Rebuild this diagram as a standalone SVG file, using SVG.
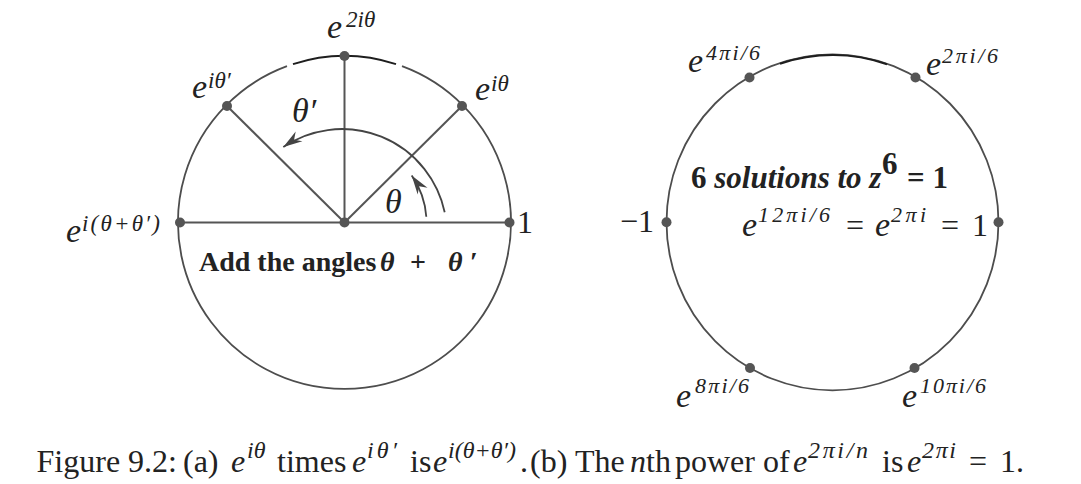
<svg xmlns="http://www.w3.org/2000/svg" width="1081" height="484" viewBox="0 0 1081 484">
<style>
text{font-family:"Liberation Serif","Times New Roman",serif;fill:#222}
.m{font-style:italic;font-size:34px}
.s{font-style:italic;font-size:23px}
.s2{font-style:italic;font-size:22px}
.r{font-size:32px}
.c{font-size:32px}
.cs{font-style:italic;font-size:24px}
.b{font-weight:bold;font-size:28px}
.b30{font-weight:bold;font-size:31px}
.circ{fill:none;stroke:#4d4d4d;stroke-width:1.8}
.dark{fill:none;stroke:#1e1e1e;stroke-width:2}
.ln{stroke:#555;stroke-width:2;fill:none}
.arc{stroke:#444;stroke-width:1.8;fill:none}
.dot{fill:#555}
</style>
<defs>
<marker id="ah" viewBox="-20 -8 22 16" refX="0" refY="0" markerWidth="22" markerHeight="16" markerUnits="userSpaceOnUse" orient="auto">
<path d="M0,0 L-19,-6 L-13,0 L-19,6 Z" fill="#444"/>
</marker>
</defs>

<g id="left-circle">
<path class="circ" d="M402 66.2 A166.5 166.5 0 1 1 287 66.2"/>
<path class="dark" d="M293 64.1 A166.5 166.5 0 0 1 396 64.1"/>
</g>
<g id="right-circle">
<ellipse class="circ" cx="832.5" cy="222.3" rx="166" ry="168"/>
<path class="dark" d="M780 63.8 A166 168 0 0 1 887 64.3"/>
</g>

<g id="connectors">
<line class="ln" x1="180" y1="222.5" x2="509.5" y2="222.5"/>
<line class="ln" x1="344.5" y1="222.5" x2="344.5" y2="56"/>
<line class="ln" x1="344.5" y1="222.5" x2="227" y2="106"/>
<line class="ln" x1="344.5" y1="222.5" x2="462" y2="106"/>
<path class="arc" d="M444.7 212.2 A105 105 0 0 0 283.3 147" marker-end="url(#ah)"/>
<path class="arc" d="M426.3 216.8 A82 82 0 0 0 411.7 175.5" marker-end="url(#ah)"/>
</g>

<g id="node-center"><circle class="dot" cx="344.5" cy="222.5" r="5"/></g>
<g id="node-one"><circle class="dot" cx="509.5" cy="222.5" r="5"/><text class="r" x="517" y="233">1</text></g>
<g id="node-sum"><circle class="dot" cx="180" cy="222.5" r="5"/><text class="m" x="66" y="242">e</text><text class="s" x="82" y="231" textLength="78" lengthAdjust="spacing">i(θ+θ′)</text></g>
<g id="node-2itheta"><circle class="dot" cx="344.5" cy="56" r="5"/><text class="m" x="327" y="38">e</text><text class="s" x="346" y="27">2iθ</text></g>
<g id="node-ithetap"><circle class="dot" cx="227" cy="106" r="5"/><text class="m" x="192" y="98">e</text><text class="s" x="208" y="88">iθ′</text></g>
<g id="node-itheta"><circle class="dot" cx="462" cy="106" r="5"/><text class="m" x="475" y="100">e</text><text class="s" x="491" y="91">iθ</text></g>
<g id="angle-labels">
<text class="m" x="292" y="122">θ′</text>
<text class="m" x="385" y="213">θ</text>
</g>
<g id="left-title">
<text class="b" x="199" y="271">Add the angles</text>
<text class="b" x="380" y="271" font-style="italic" font-size="31px">θ</text>
<text class="b" x="410" y="271" font-size="31px">+</text>
<text class="b" x="448" y="271" font-style="italic" font-size="31px">θ</text>
<text class="b" x="470" y="271" font-size="31px">′</text>
</g>

<g id="node-r0"><circle class="dot" cx="998.5" cy="222.3" r="5"/></g>
<g id="node-r60"><circle class="dot" cx="915.5" cy="77.5" r="5"/><text class="m" x="926" y="75">e</text><text class="s2" x="942" y="63" textLength="56" lengthAdjust="spacing">2πi/6</text></g>
<g id="node-r120"><circle class="dot" cx="749.5" cy="77.5" r="5"/><text class="m" x="688" y="72">e</text><text class="s2" x="706" y="60" textLength="54" lengthAdjust="spacing">4πi/6</text></g>
<g id="node-r180"><circle class="dot" cx="666.5" cy="222.3" r="5"/><text class="r" x="620" y="232">−1</text></g>
<g id="node-r240"><circle class="dot" cx="750" cy="368" r="5"/><text class="m" x="676" y="407">e</text><text class="s2" x="695" y="393" textLength="54" lengthAdjust="spacing">8πi/6</text></g>
<g id="node-r300"><circle class="dot" cx="914.5" cy="368" r="5"/><text class="m" x="902" y="407">e</text><text class="s2" x="920" y="393" textLength="66" lengthAdjust="spacing">10πi/6</text></g>
<g id="right-title">
<text class="b30" x="691" y="188">6 <tspan font-style="italic">solutions to z</tspan></text>
<text class="b30" x="882" y="174" font-size="21px">6</text>
<text class="b30" x="907" y="188">= 1</text>
<text class="m" x="742" y="236">e</text><text class="s2" x="758" y="222" textLength="72" lengthAdjust="spacing">12πi/6</text>
<text class="r" x="846" y="236">=</text>
<text class="m" x="875" y="236">e</text><text class="s2" x="891" y="222" textLength="35" lengthAdjust="spacing">2πi</text>
<text class="r" x="941" y="236">=</text>
<text class="r" x="972" y="236">1</text>
</g>

<g id="caption">
<text class="c" x="177" y="472" text-anchor="end">Figure 9.2:</text>
<text class="c" x="183" y="472">(a)</text>
<text class="c" x="231" y="472" font-style="italic">e</text><text class="cs" x="247" y="458">iθ</text>
<text class="c" x="277" y="472">times</text>
<text class="c" x="352" y="472" font-style="italic">e</text><text class="cs" x="367" y="458" textLength="30" lengthAdjust="spacing">iθ′</text>
<text class="c" x="410" y="472">is</text>
<text class="c" x="433" y="472" font-style="italic">e</text><text class="cs" x="448" y="458" textLength="68" lengthAdjust="spacing">i(θ+θ′)</text>
<text class="c" x="520" y="472">.</text>
<text class="c" x="530" y="472">(b)</text>
<text class="c" x="575" y="472">The</text>
<text class="c" x="630" y="472" font-style="italic">n</text>
<text class="c" x="646" y="472">th</text>
<text class="c" x="675" y="472">power</text>
<text class="c" x="763" y="472">of</text>
<text class="c" x="793" y="472" font-style="italic">e</text><text class="cs" x="808" y="458" textLength="60" lengthAdjust="spacing">2πi/n</text>
<text class="c" x="882" y="472">is</text>
<text class="c" x="907" y="472" font-style="italic">e</text><text class="cs" x="922" y="458" textLength="34" lengthAdjust="spacing">2πi</text>
<text class="c" x="969" y="472">=</text>
<text class="c" x="1000" y="472">1.</text>
</g>
</svg>
